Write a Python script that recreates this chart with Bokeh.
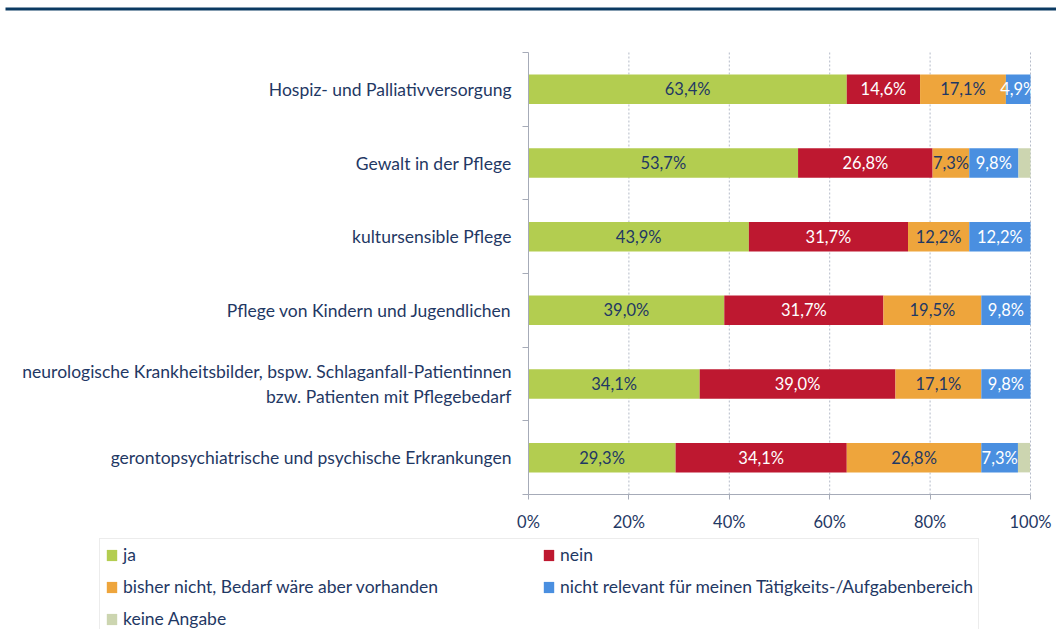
from bokeh.plotting import figure
from bokeh.models import (ColumnDataSource, FixedTicker, Range1d, Legend, LegendItem,
                          BoxAnnotation, LinearAxis)
from bokeh.embed import file_html
from bokeh.resources import INLINE
from bokeh.core.properties import value

# ---------------- data ----------------
categories = [
    "Hospiz- und Palliativversorgung",
    "Gewalt in der Pflege",
    "kultursensible Pflege",
    "Pflege von Kindern und Jugendlichen",
    "neurologische Krankheitsbilder, bspw. Schlaganfall-Patientinnen\nbzw. Patienten mit Pflegebedarf",
    "gerontopsychiatrische und psychische Erkrankungen",
]
series_names = [
    "ja",
    "nein",
    "bisher nicht, Bedarf wäre aber vorhanden",
    "nicht relevant für meinen Tätigkeits-/Aufgabenbereich",
    "keine Angabe",
]
ja = [63.4, 53.7, 43.9, 39.0, 34.1, 29.3]
nein = [14.6, 26.8, 31.7, 31.7, 39.0, 34.1]
bisher_nicht = [17.1, 7.3, 12.2, 19.5, 17.1, 26.8]
nicht_relevant = [4.9, 9.8, 12.2, 9.8, 9.8, 7.3]
keine_angabe = [0.0, 2.4, 0.0, 0.0, 0.0, 2.4]
x_ticks = [0, 20, 40, 60, 80, 100]
x_tick_labels = ["0%", "20%", "40%", "60%", "80%", "100%"]

colors = ["#B3CD50", "#BE1830", "#EEA53C", "#4A8FE0", "#CCD5B0"]
label_colors = ["#1F3864", "#FFFFFF", "#1F3864", "#FFFFFF", None]
NAVY = "#1F3864"
AXIS = "#A6ABB8"
FONT = "Lato"

series = [ja, nein, bisher_nicht, nicht_relevant, keine_angabe]
keys = ["ja", "nein", "bisher", "nicht_rel", "keine"]
n = len(categories)
ypos = [n - i for i in range(n)]
y_lo, y_hi = 0.5, n + 0.5          # category band limits
x_lo, x_hi = x_ticks[0], x_ticks[-1]

# ---------------- layout constants (pixels) ----------------
W, H = 1056, 629
PX_X0, PX_X100 = 528, 1030        # where 0 % and 100 % sit
PX_YTOP, PX_YBOT = 52, 494        # top / bottom of the category band

sx = (PX_X100 - PX_X0) / (x_hi - x_lo)
sy = (PX_YBOT - PX_YTOP) / (y_hi - y_lo)
x_range = Range1d(x_lo - PX_X0 / sx, x_hi + (W - PX_X100) / sx)
y_range = Range1d(y_lo - (H - PX_YBOT) / sy, y_hi + PX_YTOP / sy)

data = {"y": ypos}
for k, s in zip(keys, series):
    data[k] = s
src = ColumnDataSource(data)

# ---------------- chart ----------------
p = figure(width=W, height=H, output_backend="svg", toolbar_location=None,
           x_range=x_range, y_range=y_range, x_axis_type=None, y_axis_type=None,
           min_border=0, outline_line_color=None)

# top rule across the page
p.add_layout(BoxAnnotation(left=5, top=7, bottom=10,
                           left_units="canvas", top_units="canvas", bottom_units="canvas",
                           fill_color="#0B3A62", fill_alpha=1.0, line_color=None))

# dotted vertical grid lines inside the category band
p.segment(x0=x_ticks[1:], x1=x_ticks[1:], y0=[y_lo] * (len(x_ticks) - 1),
          y1=[y_hi] * (len(x_ticks) - 1), line_color="#B4BBC8", line_dash="2 2", line_width=1)

bars = p.hbar_stack(keys, y="y", height=0.4, fill_color=colors, line_color=None, source=src)

# value labels
left = [0.0] * n
for si, s in enumerate(series):
    xs, ys, txt = [], [], []
    for i, v in enumerate(s):
        if v > 0 and label_colors[si] is not None:
            xs.append(left[i] + v / 2)
            ys.append(ypos[i])
            txt.append(f"{v:.1f}".replace(".", ",") + "%")
        left[i] += v
    if txt:
        p.text(x=xs, y=ys, text=txt, text_align="center", text_baseline="middle",
               text_font=value(FONT), text_font_size="16.5px", text_color=label_colors[si])

# x axis (fixed at the bottom of the category band)
xaxis = LinearAxis(fixed_location=y_lo, bounds=(x_lo, x_hi),
                   ticker=FixedTicker(ticks=x_ticks),
                   major_label_overrides={t: l for t, l in zip(x_ticks, x_tick_labels)},
                   axis_line_color=AXIS, major_tick_line_color=AXIS,
                   major_tick_out=5, major_tick_in=0, minor_tick_line_color=None,
                   major_label_standoff=12, major_label_text_font=FONT,
                   major_label_text_font_size="16.5px", major_label_text_color=NAVY)
p.add_layout(xaxis, "below")

# y axis (fixed at 0 %), ticks between categories, labels at category centres
yaxis = LinearAxis(fixed_location=x_lo, bounds=(y_lo, y_hi),
                   ticker=FixedTicker(ticks=ypos, minor_ticks=[i + 0.5 for i in range(n + 1)]),
                   major_label_overrides={y: c for y, c in zip(ypos, categories)},
                   axis_line_color=AXIS, major_tick_line_color=None,
                   major_tick_out=0, major_tick_in=0,
                   minor_tick_line_color=AXIS, minor_tick_out=6, minor_tick_in=0,
                   major_label_standoff=11, major_label_text_font=FONT,
                   major_label_text_font_size="17.5px", major_label_text_color=NAVY)
p.add_layout(yaxis, "left")

# ---------------- legend ----------------
items = [LegendItem(label=name, renderers=[r]) for name, r in zip(series_names, bars)]
leg = Legend(items=items, location=(99, -6), orientation="horizontal", ncols=2,
             margin=0, padding=5, spacing=11, glyph_width=13, glyph_height=14,
             label_standoff=5, label_width=408, label_height=21,
             label_text_font=FONT, label_text_font_size="17.5px", label_text_color=NAVY,
             border_line_color="#D9D9D9", border_line_width=1.5,
             background_fill_color="white", background_fill_alpha=1.0)
p.add_layout(leg, "center")

open("out.html", "w").write(file_html(p, INLINE))
